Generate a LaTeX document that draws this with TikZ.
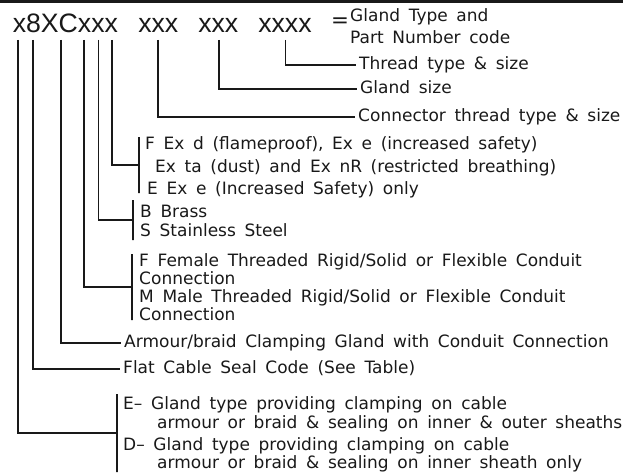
\documentclass[tikz,border=0pt]{standalone}
\usepackage{fontspec}
\newfontfamily\lblfont{DejaVu Sans}[WordSpace=1.6]
\newfontfamily\codefont{Liberation Sans}
\definecolor{cadink}{RGB}{25,25,25}
\usetikzlibrary{positioning}

\begin{document}
\begin{tikzpicture}[x=0.75pt,y=-0.75pt,
  code/.style={font=\codefont\fontsize{20}{22}\selectfont,text=cadink,anchor=base west,inner sep=0pt},
  lbl/.style={font=\lblfont\fontsize{12.75}{14}\selectfont,text=cadink,anchor=west,inner xsep=2pt,inner ysep=0pt,text height=7pt,text depth=0pt},
  bar/.style={draw=cadink,line width=.9pt,inner sep=0pt,outer sep=0pt,minimum width=0pt,minimum height=#1*0.75pt},
  tap/.style={draw=cadink,line width=.9pt}]
  \useasboundingbox (0,0) rectangle (623,474);
  \draw[line width=2pt,cadink] (0,1.3) -- (623,1.3);
  % part number code
  \node[code] (c1) at (12.5,32.5) {x8XCxxx};
  \node[code] (c2) at (138,32.5) {xxx};
  \node[code] (c3) at (198,32.5) {xxx};
  \node[code] (c4) at (258,32.5) {xxxx};
  \node[lbl,anchor=center,inner sep=0pt,text height=,text depth=,font=\lblfont\fontsize{16}{18}\selectfont] (eq) at (340,23) {=};
  \node[lbl] (g1) at (347.3,17) {Gland Type and};
  \node[lbl] (g2) at (347.3,39) {Part Number code};
  % tap points under the code
  \coordinate (t1) at (18,40);
  \coordinate (t2) at (33,40);
  \coordinate (t3) at (61,40);
  \coordinate (t4) at (84,40);
  \coordinate (t5) at (98.5,40);
  \coordinate (t6) at (112,40);
  \coordinate (t7) at (158,40);
  \coordinate (t8) at (219,40);
  \coordinate (t9) at (285.5,40);
  % single labels
  \node[lbl] (l9) at (356.3,65) {Thread type \& size};
  \node[lbl] (l8) at (357.3,89) {Gland size};
  \node[lbl] (l7) at (355.3,117) {Connector thread type \& size};
  \node[lbl] (l3) at (121.3,343) {Armour/braid Clamping Gland with Conduit Connection};
  \node[lbl] (l2) at (120.3,369) {Flat Cable Seal Code (See Table)};
  % bracketed groups
  \node[bar=56] (b6) at (139,165) {};
  \node[lbl] (f1) at (142.3,145.3) {F Ex d (flameproof), Ex e (increased safety)};
  \node[lbl] (f2) at (152.3,168.3) {Ex ta (dust) and Ex nR (restricted breathing)};
  \node[lbl] (f3) at (144.3,190.3) {E Ex e (Increased Safety) only};
  \node[bar=40] (b5) at (133,220) {};
  \node[lbl] (m1) at (137.3,213.3) {B Brass};
  \node[lbl] (m2) at (137.3,232.3) {S Stainless Steel};
  \node[bar=66] (b4) at (132,287) {};
  \node[lbl] (k1) at (136.3,262.3) {F Female Threaded Rigid/Solid or Flexible Conduit};
  \node[lbl] (k2) at (136.3,280.3) {Connection};
  \node[lbl] (k3) at (136.3,298.3) {M Male Threaded Rigid/Solid or Flexible Conduit};
  \node[lbl] (k4) at (136.3,316.3) {Connection};
  \node[bar=78] (b1) at (117,433) {};
  \node[lbl] (s1) at (120.3,405.3) {E– Gland type providing clamping on cable};
  \node[lbl] (s2) at (154.3,424.3) {armour or braid \& sealing on inner \& outer sheaths};
  \node[lbl] (s3) at (120.3,446.3) {D– Gland type providing clamping on cable};
  \node[lbl] (s4) at (154.3,464.3) {armour or braid \& sealing on inner sheath only};
  % connectors
  \draw[tap] (t9) |- (l9.west);
  \draw[tap] (t8) |- (l8.west);
  \draw[tap] (t7) |- (l7.west);
  \draw[tap] (t6) |- (b6.west);
  \draw[tap] (t5) |- (b5.west);
  \draw[tap] (t4) |- (b4.west);
  \draw[tap] (t3) |- (l3.west);
  \draw[tap] (t2) |- (l2.west);
  \draw[tap] (t1) |- (b1.west);
\end{tikzpicture}
\end{document}
